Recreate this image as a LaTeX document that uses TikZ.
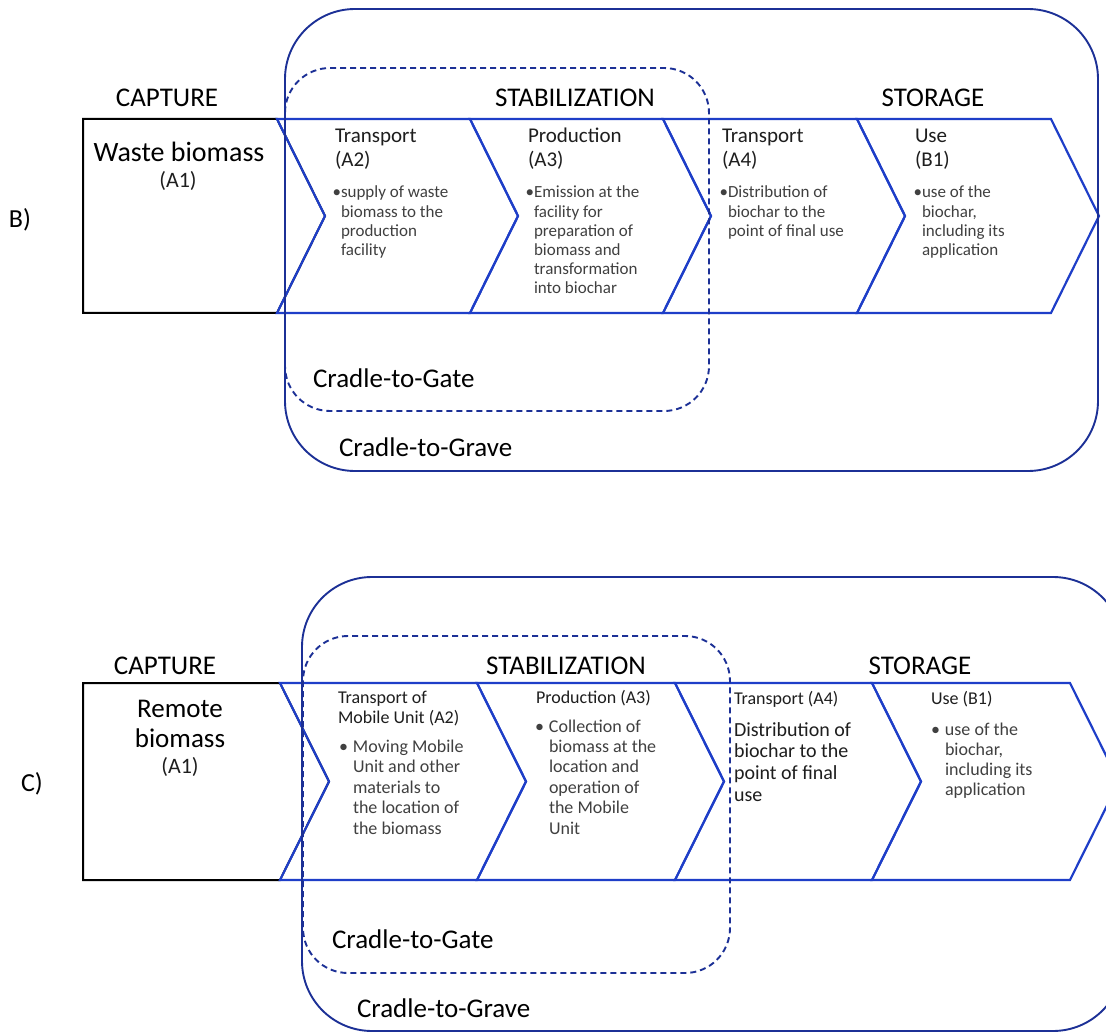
\documentclass[tikz,border=0pt]{standalone}
\usepackage{fontspec}
\setmainfont{Carlito}
\definecolor{chevblue}{RGB}{30,62,200}
\definecolor{navy}{RGB}{28,48,150}
\definecolor{txtdark}{RGB}{30,30,30}
\definecolor{txtgray}{RGB}{64,64,64}
\newcommand\fsz[2]{\fontsize{#1}{#2}\selectfont}
\newcommand\txtlines[6]{%
  \foreach \t [count=\i from 0] in {#6}
    \node[#5] (#1-\i) at (#2,{#3+\i*#4}) {\t};}
\begin{document}
\begin{tikzpicture}[x=1pt,y=-1pt,
  every node/.style={inner sep=0pt,outer sep=0pt},
  chev/.style={draw=chevblue,line width=2.2pt,line join=miter},
  blackbox/.style={draw=black,line width=2pt,fill=white},
  grave/.style={draw=navy,line width=1.9pt,rounded corners=70pt},
  gate/.style={draw=navy,line width=1.9pt,dash pattern=on 6pt off 4pt,rounded corners=45pt},
  head/.style={font=\fsz{27}{30},text=black,anchor=base},
  lbl/.style={font=\fsz{27}{30},text=black,anchor=base west},
  ttlB/.style={font=\fsz{21}{24},text=txtdark,anchor=base west},
  bulB/.style={font=\fsz{17}{19},text=txtgray,anchor=base west},
  ttlC/.style={font=\fsz{18}{20},text=txtdark,anchor=base west},
  bulC/.style={font=\fsz{18}{20},text=txtgray,anchor=base west},
  bigC/.style={font=\fsz{20}{22},text=txtdark,anchor=base west}]
\useasboundingbox (0,0) rectangle (1106,1032);
\clip (0,0) rectangle (1106,1032);
\fill[white] (0,0) rectangle (1106,1032);

% ================= Panel B =================
\draw[blackbox] (83,119) -- (277,119) -- (325,216) -- (277,313) -- (83,313) -- cycle;
\draw[chev] (277,119) -- (470,119) -- (518,216) -- (470,313) -- (277,313) -- (325,216) -- cycle;
\draw[chev] (470,119) -- (663,119) -- (711,216) -- (663,313) -- (470,313) -- (518,216) -- cycle;
\draw[chev] (663,119) -- (857,119) -- (905,216) -- (857,313) -- (663,313) -- (711,216) -- cycle;
\draw[chev] (857,119) -- (1051,119) -- (1099,216) -- (1051,313) -- (857,313) -- (905,216) -- cycle;
\draw[grave] (285,9) rectangle (1098,471);
\draw[gate] (285,68) rectangle (709,411);

\node[head] (capB) at (167,107) {CAPTURE};
\node[head] (stabB) at (575,107) {STABILIZATION};
\node[head] (storB) at (933,107) {STORAGE};
\node[font=\fsz{26}{28},anchor=base west] (labB) at (9,228) {B)};
\node[font=\fsz{28}{30},anchor=base] (wasteB) at (179,162) {Waste biomass};
\node[font=\fsz{22}{24},text=txtdark,anchor=base] (a1B) at (178,188) {(A1)};

\txtlines{tA2B}{335}{143}{24}{ttlB}{Transport,(A2)}
\txtlines{bA2B}{341}{198}{19.2}{bulB}{\llap{•}supply of waste,biomass to the,production,facility}
\txtlines{tA3B}{528}{143}{24}{ttlB}{Production,(A3)}
\txtlines{bA3B}{534}{198}{19.2}{bulB}{\llap{•}Emission at the,facility for,preparation of,biomass and,transformation,into biochar}
\txtlines{tA4B}{722}{143}{24}{ttlB}{Transport,(A4)}
\txtlines{bA4B}{728}{198}{19.2}{bulB}{\llap{•}Distribution of,biochar to the,point of final use}
\txtlines{tB1B}{915}{143}{24}{ttlB}{Use,(B1)}
\txtlines{bB1B}{922}{198}{19.2}{bulB}{\llap{•}use of the,{biochar,},including its,application}

\node[lbl] (gateB) at (313,387) {Cradle-to-Gate};
\node[lbl] (graveB) at (339,456) {Cradle-to-Grave};

% ================= Panel C =================
\draw[blackbox] (83,683) -- (280,683) -- (329,781.5) -- (280,880) -- (83,880) -- cycle;
\draw[chev] (280,683) -- (477,683) -- (526,781.5) -- (477,880) -- (280,880) -- (329,781.5) -- cycle;
\draw[chev] (477,683) -- (675,683) -- (724,781.5) -- (675,880) -- (477,880) -- (526,781.5) -- cycle;
\draw[chev] (675,683) -- (872,683) -- (921,781.5) -- (872,880) -- (675,880) -- (724,781.5) -- cycle;
\draw[chev] (872,683) -- (1070,683) -- (1119,781.5) -- (1070,880) -- (872,880) -- (921,781.5) -- cycle;
\draw[grave] (302,577) rectangle (1123,1031);
\draw[gate] (303,636) rectangle (730,973);

\node[head] (capC) at (165,674) {CAPTURE};
\node[head] (stabC) at (566,674) {STABILIZATION};
\node[head] (storC) at (920,674) {STORAGE};
\node[font=\fsz{26}{28},anchor=base west] (labC) at (21,791) {C)};
\node[font=\fsz{27}{30},anchor=base] (remC) at (180,717) {Remote};
\node[font=\fsz{27}{30},anchor=base] (bioC) at (180,747) {biomass};
\node[font=\fsz{22}{24},text=txtdark,anchor=base] (a1C) at (180,773) {(A1)};

\txtlines{tA2C}{338}{703}{20.5}{ttlC}{Transport of,Mobile Unit (A2)}
\txtlines{bA2C}{353}{752}{20.5}{bulC}{\llap{•\hspace{5pt}}Moving Mobile,Unit and other,materials to,the location of,the biomass}
\txtlines{tA3C}{536}{703}{20.5}{ttlC}{Production (A3)}
\txtlines{bA3C}{549}{732}{20.4}{bulC}{\llap{•\hspace{5pt}}Collection of,biomass at the,location and,operation of,the Mobile,Unit}
\txtlines{tA4C}{734}{704}{20.5}{ttlC}{Transport (A4)}
\txtlines{bA4C}{734}{736}{21.8}{bigC}{Distribution of,biochar to the,point of final,use}
\txtlines{tB1C}{931}{704}{20.5}{ttlC}{Use (B1)}
\txtlines{bB1C}{945}{735}{20}{bulC}{\llap{•\hspace{5pt}}use of the,{biochar,},including its,application}

\node[lbl] (gateC) at (332,948) {Cradle-to-Gate};
\node[lbl] (graveC) at (357,1017) {Cradle-to-Grave};
\end{tikzpicture}
\end{document}
